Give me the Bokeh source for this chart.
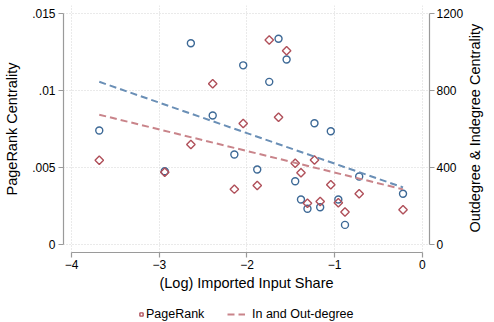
import math
import numpy as np
from bokeh.plotting import figure
from bokeh.layouts import column
from bokeh.models import Range1d, LinearAxis, FixedTicker, Legend, LegendItem
from bokeh.embed import file_html
from bokeh.resources import INLINE

# ---- data ----
log_share = [-3.685, -2.938, -2.640, -2.391, -2.144, -2.043, -1.883, -1.746, -1.640, -1.548,
             -1.450, -1.384, -1.310, -1.230, -1.165, -1.044, -0.958, -0.882, -0.720, -0.220]
pagerank = [0.00548, 0.00470, 0.00650, 0.01045, 0.00360, 0.00787, 0.00384, 0.01330, 0.00827, 0.01260,
            0.00528, 0.00466, 0.00268, 0.00550, 0.00280, 0.00388, 0.00271, 0.00212, 0.00330, 0.00226]
degree = [593, 381, 1047, 671, 468, 932, 390, 846, 1070, 962,
          329, 234, 186, 631, 194, 589, 234, 102, 354, 264]

x_ticks = [-4, -3, -2, -1, 0]
pr_ticks = [0, 0.005, 0.01, 0.015]
pr_tick_labels = ["0", ".005", ".01", ".015"]
deg_ticks = [0, 400, 800, 1200]

x_title = "(Log) Imported Input Share"
left_title = "PageRank Centrality"
right_title = "Outdegree & Indegree Centrality"
legend_labels = ["PageRank", "In and Out-degree"]

# ---- linear fits ----
xs = np.array(log_share)
fit_x = [float(xs.min()), float(xs.max())]
b_deg = np.polyfit(xs, np.array(degree, dtype=float), 1)
b_pr = np.polyfit(xs, np.array(pagerank), 1)
fit_deg = [float(np.polyval(b_deg, v)) for v in fit_x]
fit_pr = [float(np.polyval(b_pr, v)) for v in fit_x]

FONT = "Liberation Sans"
BLUE = "#3d6996"
RED = "#b0505a"
BLUE_L = "#6a8fb6"
RED_L = "#c9848a"
AXIS_C = "#9a9a9a"

y0, y1 = -0.00052, 0.01554
scale = 80000.0  # 1200 on the right axis aligns with .015 on the left

p = figure(width=494, height=293, output_backend="svg", toolbar_location=None,
           x_range=Range1d(-4.093, 0.082), y_range=Range1d(y0, y1),
           min_border_left=63, min_border_right=0, min_border_top=5, min_border_bottom=0)
p.extra_y_ranges = {"deg": Range1d(y0 * scale, y1 * scale)}
p.outline_line_color = None
p.background_fill_color = "white"
p.border_fill_color = "white"

def style_axis(ax):
    ax.axis_line_color = AXIS_C
    ax.axis_line_width = 1.2
    ax.major_tick_line_color = AXIS_C
    ax.major_tick_line_width = 1.2
    ax.major_tick_out = 5
    ax.major_tick_in = 0
    ax.minor_tick_line_color = None
    ax.major_label_text_font = FONT
    ax.major_label_text_font_size = "12px"
    ax.major_label_text_color = "black"
    ax.axis_label_text_font = FONT
    ax.axis_label_text_font_size = "14.5px"
    ax.axis_label_text_font_style = "normal"
    ax.axis_label_text_color = "black"
    ax.major_label_standoff = 3
    ax.axis_label_standoff = 9

xa = p.xaxis[0]
xa.ticker = FixedTicker(ticks=x_ticks)
xa.bounds = (x_ticks[0], x_ticks[-1])
xa.axis_label = x_title
style_axis(xa)
xa.major_label_standoff = 2
xa.axis_label_standoff = 3

ya = p.yaxis[0]
ya.ticker = FixedTicker(ticks=pr_ticks)
ya.major_label_overrides = {t: l for t, l in zip(pr_ticks, pr_tick_labels)}
ya.bounds = (pr_ticks[0], pr_ticks[-1])
ya.axis_label = left_title
style_axis(ya)

# right value axis (degree)
ra = LinearAxis(y_range_name="deg", ticker=FixedTicker(ticks=deg_ticks))
ra.bounds = (deg_ticks[0], deg_ticks[-1])
style_axis(ra)
ra.major_label_standoff = 2
p.add_layout(ra, "right")

# right title, drawn as a single rotated label reading bottom-to-top
TITLE_START = 62  # degree-scale position where the rotated title starts
ta = LinearAxis(y_range_name="deg", ticker=FixedTicker(ticks=[TITLE_START]))
ta.major_label_overrides = {TITLE_START: right_title}
ta.major_label_orientation = math.pi / 2
ta.axis_line_color = None
ta.major_tick_line_color = None
ta.minor_tick_line_color = None
ta.major_tick_out = 0
ta.major_tick_in = 0
ta.major_label_standoff = 9
ta.major_label_text_font = FONT
ta.major_label_text_font_size = "14.5px"
ta.major_label_text_color = "black"
p.add_layout(ta, "right")

p.xgrid.ticker = FixedTicker(ticks=x_ticks)
p.ygrid.ticker = FixedTicker(ticks=pr_ticks)
for g in (p.xgrid[0], p.ygrid[0]):
    g.grid_line_color = "#d4d4d4"
    g.grid_line_dash = "1 2"
    g.grid_line_width = 1

# markers
circ = p.scatter(log_share, degree, y_range_name="deg", marker="circle", size=7,
                 fill_color=None, line_color=BLUE, line_width=1.4)
dia = p.scatter(log_share, pagerank, marker="square", angle=np.pi / 4, size=6,
                fill_color=None, line_color=RED, line_width=1.4)
# fit lines
bl = p.line(fit_x, fit_deg, y_range_name="deg", line_color=BLUE_L, line_width=2, line_dash="7 4")
rl = p.line(fit_x, fit_pr, line_color=RED_L, line_width=2, line_dash="7 4")

# ---- legend strip below the chart ----
# (its ranges exclude the data, so its renderers only serve as legend keys)
q = figure(width=494, height=29, output_backend="svg", toolbar_location=None,
           x_range=Range1d(10, 11), y_range=Range1d(10, 11),
           x_axis_location=None, y_axis_location=None, min_border=0)
q.outline_line_color = None
q.grid.visible = False
q_dia = q.scatter(log_share, pagerank, marker="square", angle=np.pi / 4, size=6,
                  fill_color=None, line_color=RED, line_width=1.4)
q_rl = q.line(fit_x, fit_pr, line_color=RED_L, line_width=2, line_dash="7 4")

def make_legend(item, glyph_w, standoff, loc):
    lg = Legend(items=[item], orientation="horizontal", location=loc)
    lg.label_text_font = FONT
    lg.label_text_font_size = "12.5px"
    lg.label_text_color = "black"
    lg.border_line_color = None
    lg.background_fill_alpha = 0
    lg.glyph_width = glyph_w
    lg.glyph_height = 14
    lg.label_height = 14
    lg.label_standoff = standoff
    lg.padding = 0
    lg.margin = 0
    return lg

# the column aligns this strip's frame with the chart's frame (left edge ~63 px)
q.add_layout(make_legend(LegendItem(label=legend_labels[0], renderers=[q_dia]), 8, 1, (74, 1)))
q.add_layout(make_legend(LegendItem(label=legend_labels[1], renderers=[q_rl]), 18, 7, (164, 1)))

layout = column(p, q, spacing=0)
open("out.html", "w").write(file_html(layout, INLINE))
